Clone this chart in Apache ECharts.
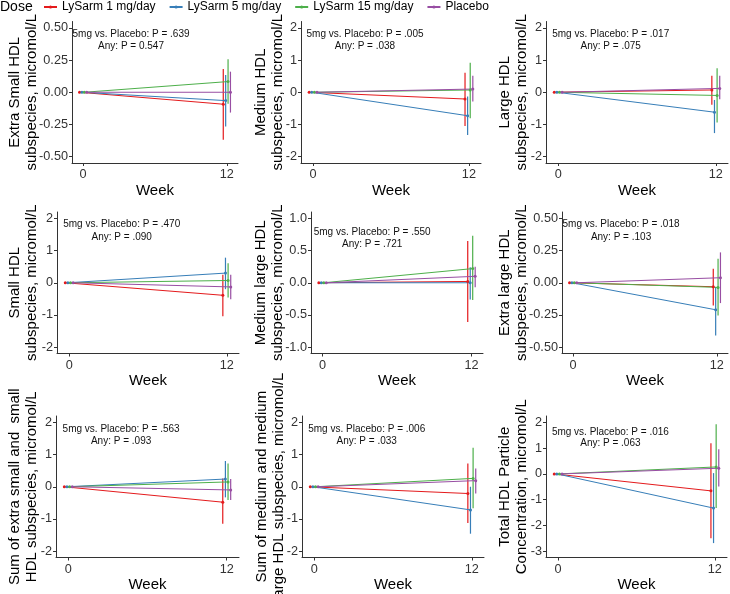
<!DOCTYPE html>
<html><head><meta charset="utf-8">
<script src="https://cdn.jsdelivr.net/npm/echarts@6/dist/echarts.min.js"></script>
<style>html,body{margin:0;padding:0;background:#fff}#c{width:730px;height:594px}</style>
</head><body><div id="c"></div>
<script>
// ---------------- data ----------------
const groups = ['LySarm 1 mg/day', 'LySarm 5 mg/day', 'LySarm 15 mg/day', 'Placebo'];
const colors = ['#E41A1C', '#377EB8', '#4DAF4A', '#984EA3'];
const weeks = [0, 12];
const week0 = [0, 0, 0, 0];

const panelTitles = [
  'Extra Small HDL\nsubspecies, micromol/L',
  'Medium HDL\nsubspecies, micromol/L',
  'Large HDL\nsubspecies, micromol/L',
  'Small HDL\nsubspecies, micromol/L',
  'Medium large HDL\nsubspecies, micromol/L',
  'Extra large HDL\nsubspecies, micromol/L',
  'Sum of extra small and  small\nHDL subspecies, micromol/L',
  'Sum of medium and medium\nlarge HDL subspecies, micromol/L',
  'Total HDL Particle\nConcentration, micromol/L'
];

const yTickValues = [
  [-0.5, -0.25, 0, 0.25, 0.5],
  [-2, -1, 0, 1, 2],
  [-2, -1, 0, 1, 2],
  [-2, -1, 0, 1, 2],
  [-1, -0.5, 0, 0.5, 1],
  [-0.5, -0.25, 0, 0.25, 0.5],
  [-2, -1, 0, 1, 2],
  [-2, -1, 0, 1, 2],
  [-3, -2, -1, 0, 1, 2]
];
const yTickLabels = [
  ['-0.50', '-0.25', '0.00', '0.25', '0.50'],
  ['-2', '-1', '0', '1', '2'],
  ['-2', '-1', '0', '1', '2'],
  ['-2', '-1', '0', '1', '2'],
  ['-1.0', '-0.5', '0.0', '0.5', '1.0'],
  ['-0.50', '-0.25', '0.00', '0.25', '0.50'],
  ['-2', '-1', '0', '1', '2'],
  ['-2', '-1', '0', '1', '2'],
  ['-3', '-2', '-1', '0', '1', '2']
];

// week-12 change: mean, lower CI, upper CI (order = groups)
const mean12 = [
  [-0.093, -0.065, 0.083, 0.0],
  [-0.21, -0.73, 0.07, 0.10],
  [0.07, -0.62, -0.10, 0.12],
  [-0.39, 0.30, 0.07, -0.13],
  [0.02, 0.0, 0.22, 0.10],
  [-0.031, -0.21, -0.036, 0.039],
  [-0.48, 0.24, 0.15, -0.10],
  [-0.21, -0.72, 0.26, 0.19],
  [-0.66, -1.33, 0.27, 0.22]
];
const lower12 = [
  [-0.37, -0.267, -0.09, -0.158],
  [-1.05, -1.33, -0.81, -0.29],
  [-0.39, -1.27, -0.94, -0.22],
  [-1.04, -0.20, -0.46, -0.51],
  [-0.61, -0.26, -0.27, -0.07],
  [-0.176, -0.41, -0.254, -0.158],
  [-1.15, -0.33, -0.41, -0.41],
  [-1.13, -1.46, -0.67, -0.21],
  [-2.50, -2.69, -1.33, -0.49]
];
const upper12 = [
  [0.18, 0.135, 0.256, 0.16],
  [0.61, -0.13, 0.92, 0.51],
  [0.51, -0.24, 0.75, 0.51],
  [0.25, 0.78, 0.61, 0.25],
  [0.65, 0.24, 0.73, 0.25],
  [0.109, -0.034, 0.187, 0.236],
  [0.26, 0.80, 0.72, 0.24],
  [0.72, 0.0, 1.21, 0.57],
  [1.19, 0.03, 1.93, 0.96]
];

const pText5mg = [
  '5mg vs. Placebo: P = .639', '5mg vs. Placebo: P = .005', '5mg vs. Placebo: P = .017',
  '5mg vs. Placebo: P = .470', '5mg vs. Placebo: P = .550', '5mg vs. Placebo: P = .018',
  '5mg vs. Placebo: P = .563', '5mg vs. Placebo: P = .006', '5mg vs. Placebo: P = .016'
];
const pTextAny = [
  'Any: P = 0.547', 'Any: P = .038', 'Any: P = .075',
  'Any: P = .090', 'Any: P = .721', 'Any: P = .103',
  'Any: P = .093', 'Any: P = .033', 'Any: P = .063'
];
// annotation anchor (x in weeks, y of each text line in data units)
const annX = 4;
const annY1 = [0.451, 1.805, 1.80, 1.81, 0.787, 0.451, 1.79, 1.79, 1.635];
const annY2 = [0.355, 1.42, 1.42, 1.41, 0.596, 0.35, 1.40, 1.40, 1.184];

// ---------------- layout ----------------
const FONT = '"Liberation Sans", Arial, Helvetica, sans-serif';
const dodge = [-0.3, -0.1, 0.1, 0.3];
const xMin = -0.93, xMax = 12.93;
const layout = [
  {left: 72, top: 21.5, width: 166, gap: 31.8},
  {left: 301, top: 21.5, width: 180, gap: 14.2},
  {left: 546, top: 21.5, width: 182, gap: 15.5},
  {left: 57, top: 212, width: 182, gap: 16.5},
  {left: 311, top: 212, width: 172, gap: 24.2},
  {left: 562, top: 212, width: 166, gap: 31.5},
  {left: 56, top: 416, width: 183, gap: 15.8},
  {left: 302, top: 416, width: 182, gap: 14.9},
  {left: 546, top: 416, width: 181, gap: 15.8}
];
const gridH = 141.5;

const grid = [], xAxis = [], yAxis = [], series = [];
for (let p = 0; p < 9; p++) {
  const L = layout[p];
  grid.push({left: L.left, top: L.top, width: L.width, height: gridH, containLabel: false, outerBoundsMode: 'none'});
  const tv = yTickValues[p];
  const lo = tv[0], hi = tv[tv.length - 1];
  const ex = (hi - lo) * 0.05;
  xAxis.push({
    type: 'value', gridIndex: p, min: xMin, max: xMax,
    name: 'Week', nameLocation: 'middle', nameGap: 20, nameMoveOverlap: false,
    nameTextStyle: {fontSize: 15, color: '#000', fontFamily: FONT},
    axisLine: {show: true, onZero: false, lineStyle: {color: '#333', width: 1}},
    axisTick: {show: true, length: 3, customValues: weeks, lineStyle: {color: '#333'}},
    axisLabel: {customValues: weeks, margin: 5, fontSize: 12.7, color: '#333', fontFamily: FONT},
    splitLine: {show: false}
  });
  yAxis.push({
    type: 'value', gridIndex: p, min: lo - ex, max: hi + ex,
    name: panelTitles[p], nameLocation: 'middle', nameRotate: 90, nameGap: L.gap, nameMoveOverlap: false,
    nameTextStyle: {fontSize: 15, lineHeight: 17, color: '#000', fontFamily: FONT},
    axisLine: {show: true, onZero: false, lineStyle: {color: '#333', width: 1}},
    axisTick: {show: true, length: 3, customValues: tv, lineStyle: {color: '#333'}},
    axisLabel: {
      customValues: tv, margin: 4, fontSize: 12.7, color: '#333', fontFamily: FONT,
      formatter: (v) => { const i = tv.findIndex(t => Math.abs(t - v) < 1e-9); return i >= 0 ? yTickLabels[p][i] : ''; }
    },
    splitLine: {show: false}
  });
  for (let g = 0; g < 4; g++) {
    series.push({
      name: groups[g], type: 'line', xAxisIndex: p, yAxisIndex: p,
      data: [[weeks[0] + dodge[g], week0[g]], [weeks[1] + dodge[g], mean12[p][g]]],
      symbol: 'circle', symbolSize: 3, showSymbol: true,
      lineStyle: {color: colors[g], width: 1}, itemStyle: {color: colors[g]},
      animation: false, silent: true, z: 3
    });
    series.push({
      name: groups[g], type: 'custom', xAxisIndex: p, yAxisIndex: p,
      data: [[weeks[1] + dodge[g], lower12[p][g], upper12[p][g]]],
      renderItem: (params, api) => {
        const a = api.coord([api.value(0), api.value(1)]);
        const b = api.coord([api.value(0), api.value(2)]);
        return {type: 'line', shape: {x1: a[0], y1: a[1], x2: b[0], y2: b[1]},
                style: {stroke: colors[g], lineWidth: 1.2}};
      },
      animation: false, silent: true, z: 2
    });
  }
  series.push({
    type: 'custom', xAxisIndex: p, yAxisIndex: p,
    data: [[annX, annY1[p]], [annX, annY2[p]]],
    renderItem: (params, api) => {
      const c = api.coord([api.value(0), api.value(1)]);
      const txt = params.dataIndex === 0 ? pText5mg[p] : pTextAny[p];
      return {type: 'text', x: c[0], y: c[1],
              style: {text: txt, fill: '#111', fontSize: 10, fontFamily: FONT, align: 'center', verticalAlign: 'middle'}};
    },
    animation: false, silent: true, z: 5
  });
}

const chart = echarts.init(document.getElementById('c'));
chart.setOption({
  animation: false,
  backgroundColor: '#fff',
  title: {text: 'Dose', left: 0, top: 0, padding: 0, textStyle: {fontSize: 14, fontWeight: 'normal', color: '#000', fontFamily: FONT}},
  legend: {
    data: groups, left: 43, top: 1, padding: 0, itemWidth: 13, itemHeight: 4, itemGap: 13,
    textStyle: {fontSize: 12, color: '#000', fontFamily: FONT}, selectedMode: false
  },
  grid, xAxis, yAxis, series
});
</script>
</body></html>
